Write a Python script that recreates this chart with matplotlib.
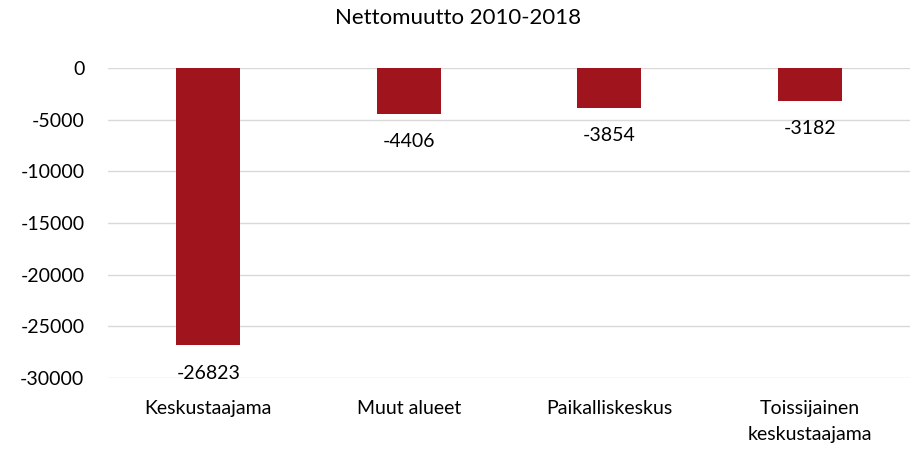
import matplotlib
matplotlib.use("Agg")
import matplotlib.pyplot as plt

categories = ["Keskustaajama", "Muut alueet", "Paikalliskeskus", "Toissijainen\nkeskustaajama"]
values = [-26823, -4406, -3854, -3182]
yticks = [0, -5000, -10000, -15000, -20000, -25000, -30000]
title = "Nettomuutto 2010-2018"

plt.rcParams['font.family'] = ['Lato', 'DejaVu Sans']
fig = plt.figure(figsize=(9.16, 4.53), dpi=100)
ax = fig.add_axes([108/916, 1-378/453, (910-108)/916, (378-68)/453])
x = range(len(categories))
ax.bar(x, values, width=0.32, color="#A0141E", zorder=3)
ax.set_ylim(-30000, 0)
ax.set_xlim(-0.5, len(categories)-0.5)
ax.set_yticks(yticks)
ax.set_yticklabels([str(t) for t in yticks], fontsize=14)
ax.set_xticks(list(x))
ax.set_xticklabels(categories, fontsize=14, linespacing=1.6)
ax.tick_params(axis='both', length=0)
ax.tick_params(axis='y', pad=17)
ax.tick_params(axis='x', pad=16)
for s in ax.spines.values():
    s.set_visible(False)
ax.grid(axis='y', color="#D9D9D9", linewidth=1, zorder=0)
ax.set_axisbelow(True)
for xi, v in zip(x, values):
    ax.annotate(str(v), (xi, v), xytext=(0, -14), textcoords='offset points',
                ha='center', va='top', fontsize=14, annotation_clip=False)
fig.text(0.5, 1-18/453, title, ha='center', va='center', fontsize=16)
fig.savefig("out.png", dpi=100)
